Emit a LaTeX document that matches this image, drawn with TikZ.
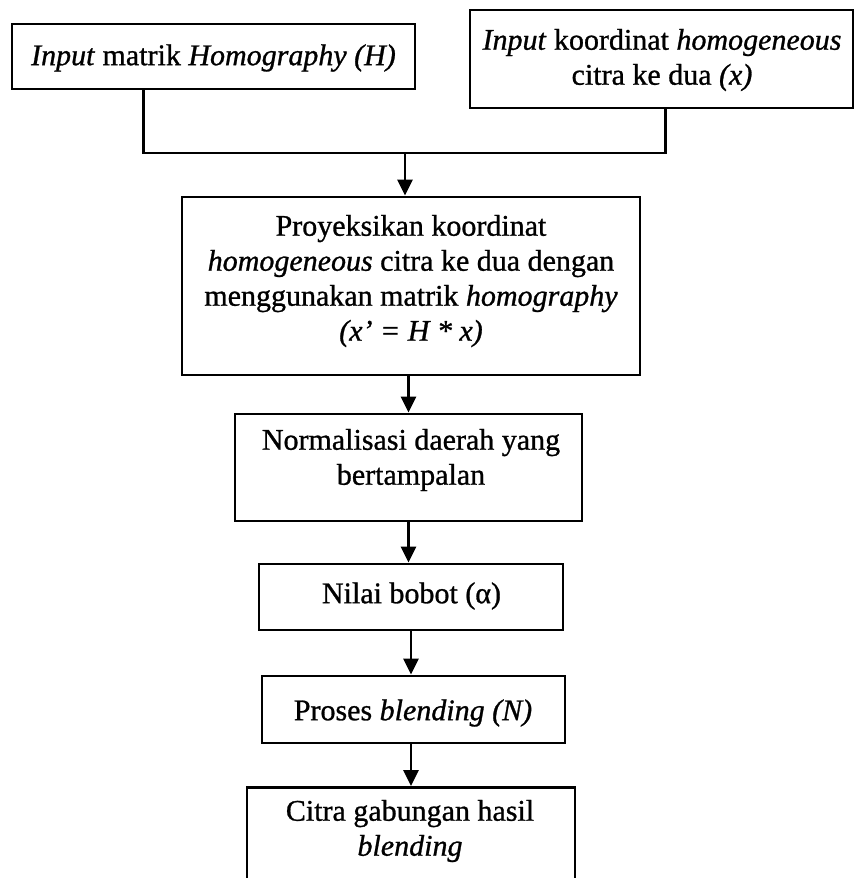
\documentclass[tikz,border=0pt]{standalone}
\usepackage{fontspec}
\setmainfont{Liberation Serif}[FakeBold=0.9]
\usetikzlibrary{arrows.meta}
\begin{document}
\begin{tikzpicture}[x=1pt,y=-1pt,
  box/.style={draw, line width=2.8pt, inner sep=0pt, rectangle},
  txt/.style={align=center, font=\fontsize{30}{35}\selectfont, inner sep=0pt},
  link/.style={line width=2.8pt},
  arr/.style={line width=2.8pt, -{Triangle[length=16pt,width=15pt]}}]
\useasboundingbox (0,0) rectangle (854,878);
% boxes
\node[box, minimum width=403pt, minimum height=65pt]  (b1) at (213.5,56.5) {};
\node[box, minimum width=383pt, minimum height=98pt]  (b2) at (661.5,59) {};
\node[box, minimum width=458pt, minimum height=178pt] (b3) at (411,286) {};
\node[box, minimum width=347pt, minimum height=107pt] (b4) at (408.5,467.5) {};
\node[box, minimum width=304pt, minimum height=66pt]  (b5) at (411,597) {};
\node[box, minimum width=303pt, minimum height=67pt]  (b6) at (413.5,709.5) {};
\node[box, minimum width=328pt, minimum height=110pt, anchor=north] (b7) at (411,786) {};
% texts
\node[txt] (t1) at (213.5,58) {\textit{Input} matrik \textit{Homography (H)}};
\node[txt] (t2) at (662,60) {\textit{Input} koordinat \textit{homogeneous}\\citra ke dua \textit{(x)}};
\node[txt] (t3) at (411,281) {Proyeksikan koordinat\\\textit{homogeneous} citra ke dua dengan\\menggunakan matrik \textit{homography}\\\textit{(x’ = H * x)}};
\node[txt] (t4) at (411,460) {Normalisasi daerah yang\\bertampalan};
\node[txt] (t5) at (411.5,596) {Nilai bobot (α)};
\node[txt] (t6) at (413,713) {Proses \textit{blending (N)}};
\node[txt] (t7) at (410,831) {Citra gabungan hasil\\\textit{blending}};
% connectors
\coordinate (j) at (405,153);
\draw[link] ([xshift=133pt]b1.south west) |- (j) -| ([xshift=197pt]b2.south west);
\draw[arr] (j) -- (j |- b3.north);
\draw[arr] (b3.south -| b4.north) -- (b4.north);
\draw[arr] (b4.south) -- (b4.south |- b5.north);
\draw[arr] (b5.south) -- (b5.south |- b6.north);
\draw[arr] (b6.south -| b7.north) -- (b7.north);
\end{tikzpicture}
\end{document}
